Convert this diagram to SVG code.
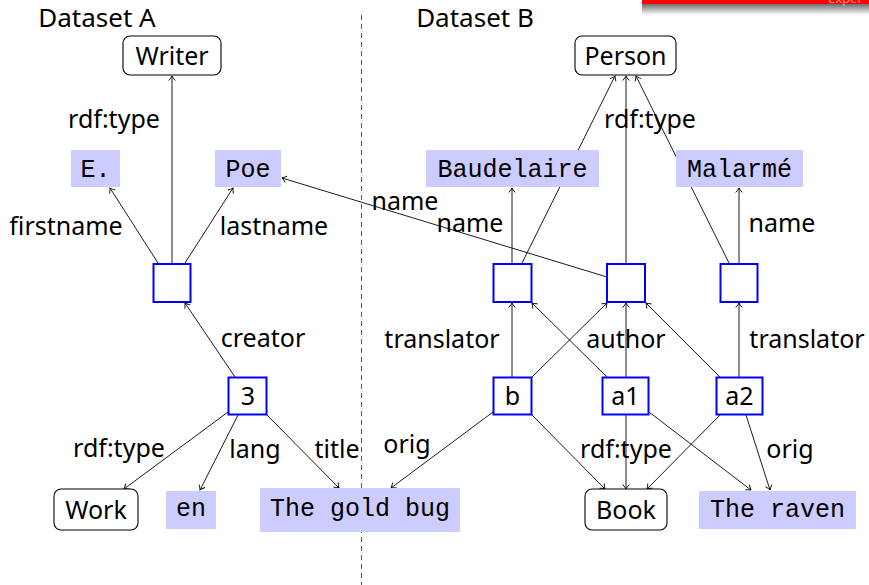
<svg xmlns="http://www.w3.org/2000/svg" width="869" height="585" viewBox="0 0 869 585">
  <defs>
    <linearGradient id="shade" x1="0" y1="0" x2="0" y2="1">
      <stop offset="0" stop-color="#6e6e6e"/>
      <stop offset="1" stop-color="#ffffff"/>
    </linearGradient>
    <marker id="to" viewBox="-6 -5 7 10" refX="0" refY="0" markerWidth="7" markerHeight="10" markerUnits="userSpaceOnUse" orient="auto">
      <path d="M-4.5,-3.3 Q-1.6,-0.7 0,0 Q-1.6,0.7 -4.5,3.3" fill="none" stroke="#000" stroke-width="0.9"/>
    </marker>
    <style>
      .lbl { font-family: "Noto Sans", "DejaVu Sans", sans-serif; font-size: 25px; fill: #000; text-anchor: middle; }
      .hdr { font-family: "Noto Sans", "DejaVu Sans", sans-serif; font-size: 26px; fill: #000; text-anchor: middle; }
      .lit { font-family: "Liberation Mono", "DejaVu Sans Mono", monospace; font-size: 25px; fill: #000; text-anchor: middle; }
      .cls { fill: #fff; stroke: #000; stroke-width: 1.1; }
      .lbox { fill: #ccccff; stroke: none; }
      .bnode { fill: #fff; stroke: #0000ff; stroke-width: 2; }
      .edge { stroke: #000; stroke-width: 0.9; fill: none; marker-end: url(#to); }
    </style>
  </defs>

  <rect width="869" height="585" fill="#fff"/>

  <!-- header strip -->
  <rect x="642" y="0" width="227" height="4" fill="#ff0000"/>
  <rect x="642" y="4" width="227" height="11" fill="url(#shade)"/>
  <text x="828" y="2.5" font-family="Noto Sans, sans-serif" font-size="13" fill="#ff9a9a">Exper</text>

  <!-- separator between the two datasets -->
  <line x1="361.5" y1="15" x2="361.5" y2="585" stroke="#555" stroke-width="1" stroke-dasharray="5 4"/>

  <text class="hdr" x="97" y="27">Dataset A</text>
  <text class="hdr" x="475" y="27">Dataset B</text>

  <!-- connectors -->
  <g id="edges">
    <line class="edge" x1="172" y1="263" x2="172" y2="76"/>
    <line class="edge" x1="158" y1="263" x2="110" y2="188"/>
    <line class="edge" x1="185" y1="263" x2="233" y2="188"/>
    <line class="edge" x1="235" y1="377" x2="185" y2="303"/>
    <line class="edge" x1="228" y1="412" x2="124" y2="489"/>
    <line class="edge" x1="238" y1="415" x2="200" y2="490"/>
    <line class="edge" x1="267" y1="415" x2="339" y2="488"/>

    <line class="edge" x1="522" y1="263" x2="615" y2="76"/>
    <line class="edge" x1="626" y1="263" x2="626" y2="76"/>
    <line class="edge" x1="729" y1="263" x2="636" y2="76"/>
    <line class="edge" x1="512" y1="263" x2="512" y2="188"/>
    <line class="edge" x1="739" y1="263" x2="739" y2="188"/>
    <line class="edge" x1="607" y1="277" x2="282" y2="178"/>
    <line class="edge" x1="512" y1="377" x2="512" y2="303"/>
    <line class="edge" x1="532" y1="377" x2="607" y2="303"/>
    <line class="edge" x1="607" y1="377" x2="532" y2="303"/>
    <line class="edge" x1="626" y1="377" x2="626" y2="303"/>
    <line class="edge" x1="720" y1="377" x2="646" y2="303"/>
    <line class="edge" x1="739" y1="377" x2="739" y2="303"/>
    <line class="edge" x1="493" y1="412" x2="391" y2="488"/>
    <line class="edge" x1="532" y1="415" x2="605" y2="489"/>
    <line class="edge" x1="626" y1="415" x2="626" y2="489"/>
    <line class="edge" x1="649" y1="412" x2="751" y2="490"/>
    <line class="edge" x1="720" y1="415" x2="647" y2="489"/>
    <line class="edge" x1="746" y1="415" x2="770" y2="490"/>
  </g>

  <!-- edge labels -->
  <g id="edge-labels">
    <text class="lbl" x="114" y="128">rdf:type</text>
    <text class="lbl" x="66" y="235">firstname</text>
    <text class="lbl" x="274" y="235">lastname</text>
    <text class="lbl" x="263" y="347">creator</text>
    <text class="lbl" x="119" y="457">rdf:type</text>
    <text class="lbl" x="255" y="458">lang</text>
    <text class="lbl" x="337" y="458">title</text>

    <text class="lbl" x="650" y="128">rdf:type</text>
    <text class="lbl" x="405" y="210">name</text>
    <text class="lbl" x="470" y="232">name</text>
    <text class="lbl" x="782" y="232">name</text>
    <text class="lbl" x="442" y="348">translator</text>
    <text class="lbl" x="626" y="348">author</text>
    <text class="lbl" x="807" y="348">translator</text>
    <text class="lbl" x="407" y="453">orig</text>
    <text class="lbl" x="626" y="458">rdf:type</text>
    <text class="lbl" x="790" y="458">orig</text>
  </g>

  <!-- Dataset A nodes -->
  <g id="writer"><rect class="cls" x="123" y="36" width="98" height="39" rx="7"/><text class="lbl" x="172" y="65">Writer</text></g>
  <g id="e"><rect class="lbox" x="71" y="150" width="49" height="37"/><text class="lit" x="95.5" y="177">E.</text></g>
  <g id="poe"><rect class="lbox" x="215" y="150" width="66" height="37"/><text class="lit" x="248" y="177">Poe</text></g>
  <g id="bA"><rect class="bnode" x="153.5" y="264" width="37" height="38"/></g>
  <g id="n3"><rect class="bnode" x="228.5" y="377.5" width="38" height="37"/><text class="lbl" x="248" y="405">3</text></g>
  <g id="work"><rect class="cls" x="54" y="489" width="84" height="41" rx="7"/><text class="lbl" x="96" y="519">Work</text></g>
  <g id="en"><rect class="lbox" x="166" y="491" width="50" height="38"/><text class="lit" x="191" y="516">en</text></g>
  <g id="goldbug"><rect class="lbox" x="260" y="488" width="200" height="44"/><text class="lit" x="360" y="516">The gold bug</text></g>

  <!-- Dataset B nodes -->
  <g id="person"><rect class="cls" x="575" y="36" width="101" height="39" rx="7"/><text class="lbl" x="625.5" y="65">Person</text></g>
  <g id="baudelaire"><rect class="lbox" x="426" y="150" width="173" height="37"/><text class="lit" x="512.5" y="177">Baudelaire</text></g>
  <g id="malarme"><rect class="lbox" x="676" y="150" width="127" height="37"/><text class="lit" x="739.5" y="177">Malarmé</text></g>
  <g id="bB1"><rect class="bnode" x="493.5" y="264" width="38" height="38"/></g>
  <g id="bB2"><rect class="bnode" x="607" y="264" width="38" height="38"/></g>
  <g id="bB3"><rect class="bnode" x="720.5" y="264" width="37" height="38"/></g>
  <g id="b"><rect class="bnode" x="493.5" y="377.5" width="38" height="37"/><text class="lbl" x="512.5" y="405">b</text></g>
  <g id="a1"><rect class="bnode" x="602.5" y="377.5" width="46" height="37"/><text class="lbl" x="625.5" y="405">a1</text></g>
  <g id="a2"><rect class="bnode" x="716.5" y="377.5" width="46" height="37"/><text class="lbl" x="739.5" y="405">a2</text></g>
  <g id="book"><rect class="cls" x="585" y="489" width="82" height="41" rx="7"/><text class="lbl" x="626" y="519">Book</text></g>
  <g id="raven"><rect class="lbox" x="699" y="491" width="157" height="38"/><text class="lit" x="777.5" y="517">The raven</text></g>
</svg>
